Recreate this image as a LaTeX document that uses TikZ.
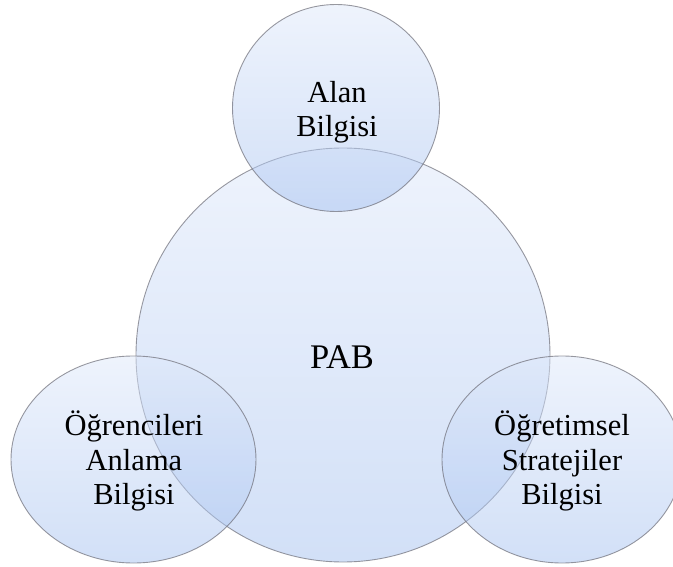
\documentclass[tikz,border=0pt]{standalone}
\usepackage{fontspec}
\setmainfont{Liberation Serif}
\usetikzlibrary{shapes.geometric}
\definecolor{bubbletop}{RGB}{222,232,250}
\definecolor{bubblebot}{RGB}{165,193,240}
\definecolor{bubbleline}{RGB}{110,110,120}
\begin{document}
\begin{tikzpicture}[x=1pt,y=-1pt,
  bubble/.style={draw=bubbleline, line width=0.9pt, draw opacity=0.7,
    top color=bubbletop, bottom color=bubblebot, fill opacity=0.5, inner sep=0pt},
  lbl/.style={text=black, align=center, inner sep=0pt,
    font=\fontsize{30.5}{34.5}\selectfont}]
\useasboundingbox (0,0) rectangle (673,567);
\clip (0,0) rectangle (673,567);
\node[bubble, circle, minimum size=414pt] (pab) at (343,355) {};
\node[bubble, circle, minimum size=207pt] (alan) at (336,108) {};
\node[bubble, ellipse, minimum width=245pt, minimum height=207pt] (ogr) at (133.5,459.5) {};
\node[bubble, ellipse, minimum width=240pt, minimum height=207pt] (str) at (562,459.5) {};
\node[lbl, anchor=base, font=\fontsize{34.5}{40}\selectfont] (pabt) at (342,368) {PAB};
\node[lbl] (alant) at (337,112) {Alan\\Bilgisi};
\node[lbl] (ogrt) at (134,461) {Öğrencileri\\Anlama\\Bilgisi};
\node[lbl] (strt) at (562,461) {Öğretimsel\\Stratejiler\\Bilgisi};
\end{tikzpicture}
\end{document}
